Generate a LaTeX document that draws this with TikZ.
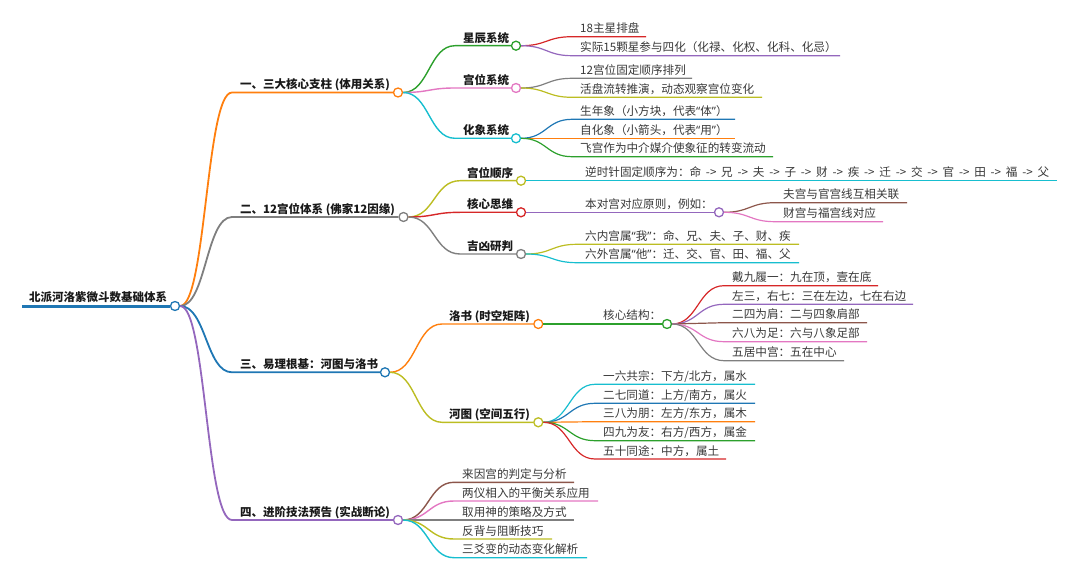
\documentclass[tikz,border=0pt]{standalone}
\usepackage{fontspec}
\setmainfont{Noto Sans CJK SC}
\newfontfamily\qfont{Noto Sans}
\newcommand{\qL}{{\qfont “}}
\newcommand{\qR}{{\qfont ”}}
\usetikzlibrary{calc}
\definecolor{cBlue}{HTML}{1F77B4}
\definecolor{cOrange}{HTML}{FF7F0E}
\definecolor{cGreen}{HTML}{2CA02C}
\definecolor{cRed}{HTML}{D62728}
\definecolor{cPurple}{HTML}{9467BD}
\definecolor{cBrown}{HTML}{8C564B}
\definecolor{cPink}{HTML}{E377C2}
\definecolor{cGray}{HTML}{7F7F7F}
\definecolor{cOlive}{HTML}{BCBD22}
\definecolor{cCyan}{HTML}{17BECF}
\begin{document}
\begin{tikzpicture}[x=1bp,y=-1bp,
  hd/.style={anchor=base west, inner sep=0pt, font=\fontsize{11.5bp}{14bp}\selectfont\bfseries, text=black!90},
  lf/.style={anchor=base west, inner sep=0pt, font=\fontsize{11.6bp}{14bp}\selectfont, text=black!78},
  dot/.style={circle, draw=#1, fill=white, line width=1.3bp, minimum size=9bp, inner sep=0pt},
  link/.style={to path={let \p1=(\tikztostart), \p2=(\tikztotarget) in .. controls ({(\x1+\x2)/2},\y1) and ({(\x1+\x2)/2},\y2) .. (\tikztotarget) \tikztonodes}},
  w0/.style={line width=3bp}, w1/.style={line width=1.8bp}, w2/.style={line width=1.4bp}, w3/.style={line width=1.2bp}]
\useasboundingbox (0,0) rectangle (1080,580);

% ---------- root ----------
\node[dot=cBlue] (root-c) at (175,306) {};
\coordinate (root-s) at (22,306);
\node[hd] (root) at (29,302) {北派河洛紫微斗数基础体系};
\draw[cBlue,w0] (root-s) -- (root-c);

% ---------- level 1 ----------
\coordinate (L1-s) at (232,92.5);
\node[hd] (L1) at (240,89) {一、三大核心支柱 (体用关系)};
\node[dot=cOrange] (L1-c) at (398,92.5) {};
\draw[cOrange,w1] (root-c.east) to[link] (L1-s) -- (L1-c);

\coordinate (L2-s) at (232,217);
\node[hd] (L2) at (240,213.5) {二、12宫位体系 (佛家12因缘)};
\node[dot=cGray] (L2-c) at (403.5,217) {};
\draw[cGray,w1] (root-c.east) to[link] (L2-s) -- (L2-c);

\coordinate (L3-s) at (232,372.3);
\node[hd] (L3) at (240,368.8) {三、易理根基：河图与洛书};
\node[dot=cBlue] (L3-c) at (385,372.3) {};
\draw[cBlue,w1] (root-c.east) to[link] (L3-s) -- (L3-c);

\coordinate (L4-s) at (232,520);
\node[hd] (L4) at (240,516.5) {四、进阶技法预告 (实战断论)};
\node[dot=cPurple] (L4-c) at (398,520) {};
\draw[cPurple,w1] (root-c.east) to[link] (L4-s) -- (L4-c);

% ---------- branch 1 ----------
\coordinate (a1-s) at (455,45.7);
\node[hd] (a1) at (463,42.2) {星辰系统};
\node[dot=cGreen] (a1-c) at (516,45.7) {};
\draw[cGreen,w2] (L1-c.east) to[link] (a1-s) -- (a1-c);

\coordinate (a2-s) at (455,88);
\node[hd] (a2) at (463,84.5) {宫位系统};
\node[dot=cPink] (a2-c) at (516,88) {};
\draw[cPink,w2] (L1-c.east) to[link] (a2-s) -- (a2-c);

\coordinate (a3-s) at (455,138.3);
\node[hd] (a3) at (463,134.8) {化象系统};
\node[dot=cCyan] (a3-c) at (516,138.3) {};
\draw[cCyan,w2] (L1-c.east) to[link] (a3-s) -- (a3-c);

\coordinate (a11-s) at (572,36.7);
\node[lf] (a11) at (580,32.7) {18主星排盘};
\coordinate (a11-e) at (646,36.7);
\draw[cRed,w3] (a1-c.east) to[link] (a11-s) -- (a11-e);

\coordinate (a12-s) at (572,55.7);
\node[lf] (a12) at (580,51.7) {实际15颗星参与四化（化禄、化权、化科、化忌）};
\coordinate (a12-e) at (840,55.7);
\draw[cPurple,w3] (a1-c.east) to[link] (a12-s) -- (a12-e);

\coordinate (a21-s) at (572,78.3);
\node[lf] (a21) at (580,74.3) {12宫位固定顺序排列};
\coordinate (a21-e) at (692,78.3);
\draw[cGray,w3] (a2-c.east) to[link] (a21-s) -- (a21-e);

\coordinate (a22-s) at (572,97.3);
\node[lf] (a22) at (580,93.3) {活盘流转推演，动态观察宫位变化};
\coordinate (a22-e) at (762,97.3);
\draw[cOlive,w3] (a2-c.east) to[link] (a22-s) -- (a22-e);

\coordinate (a31-s) at (572,119.3);
\node[lf] (a31) at (580,115.3) {生年象（小方块，代表\qL 体\qR）};
\coordinate (a31-e) at (735,119.3);
\draw[cBlue,w3] (a3-c.east) to[link] (a31-s) -- (a31-e);

\coordinate (a32-s) at (572,138.3);
\node[lf] (a32) at (580,134.3) {自化象（小箭头，代表\qL 用\qR）};
\coordinate (a32-e) at (735,138.3);
\draw[cOrange,w3] (a3-c.east) to[link] (a32-s) -- (a32-e);

\coordinate (a33-s) at (572,156.7);
\node[lf] (a33) at (580,152.7) {飞宫作为中介媒介使象征的转变流动};
\coordinate (a33-e) at (773,156.7);
\draw[cGreen,w3] (a3-c.east) to[link] (a33-s) -- (a33-e);

% ---------- branch 2 ----------
\coordinate (b1-s) at (460,180.7);
\node[hd] (b1) at (467,177.2) {宫位顺序};
\node[dot=cOlive] (b1-c) at (521,180.7) {};
\draw[cOlive,w2] (L2-c.east) to[link] (b1-s) -- (b1-c);

\coordinate (b2-s) at (460,212.3);
\node[hd] (b2) at (467,208.8) {核心思维};
\node[dot=cRed] (b2-c) at (521,212.3) {};
\draw[cRed,w2] (L2-c.east) to[link] (b2-s) -- (b2-c);

\coordinate (b3-s) at (460,254);
\node[hd] (b3) at (467,250.5) {吉凶研判};
\node[dot=cGray] (b3-c) at (521,254) {};
\draw[cGray,w2] (L2-c.east) to[link] (b3-s) -- (b3-c);

\coordinate (b11-s) at (577,180.7);
\node[lf] (b11) at (585,176.7) {\makebox[464bp][s]{逆时针固定顺序为：命 -> 兄 -> 夫 -> 子 -> 财 -> 疾 -> 迁 -> 交 -> 官 -> 田 -> 福 -> 父}};
\coordinate (b11-e) at (1057,180.7);
\draw[cCyan,w3] (b1-c.east) to[link] (b11-s) -- (b11-e);

\coordinate (b21-s) at (577,212.3);
\node[lf] (b21) at (585,208.3) {本对宫对应原则，例如：};
\node[dot=cPurple] (b21-c) at (719,212.3) {};
\draw[cPurple,w3] (b2-c.east) to[link] (b21-s) -- (b21-c);

\coordinate (b211-s) at (775,202.7);
\node[lf] (b211) at (783,198.7) {夫宫与官宫线互相关联};
\coordinate (b211-e) at (907,202.7);
\draw[cBrown,w3] (b21-c.east) to[link] (b211-s) -- (b211-e);

\coordinate (b212-s) at (775,221.7);
\node[lf] (b212) at (783,217.7) {财宫与福宫线对应};
\coordinate (b212-e) at (883,221.7);
\draw[cPink,w3] (b21-c.east) to[link] (b212-s) -- (b212-e);

\coordinate (b31-s) at (577,244.3);
\node[lf] (b31) at (585,240.3) {六内宫属\qL 我\qR：命、兄、夫、子、财、疾};
\coordinate (b31-e) at (799,244.3);
\draw[cOlive,w3] (b3-c.east) to[link] (b31-s) -- (b31-e);

\coordinate (b32-s) at (577,262.7);
\node[lf] (b32) at (585,258.7) {六外宫属\qL 他\qR：迁、交、官、田、福、父};
\coordinate (b32-e) at (799,262.7);
\draw[cCyan,w3] (b3-c.east) to[link] (b32-s) -- (b32-e);

% ---------- branch 3 ----------
\coordinate (c1-s) at (442,324);
\node[hd] (c1) at (449,320.5) {洛书 (时空矩阵)};
\node[dot=cOrange] (c1-c) at (538.3,324) {};
\draw[cOrange,w2] (L3-c.east) to[link] (c1-s) -- (c1-c);

\coordinate (c2-s) at (442,422.3);
\node[hd] (c2) at (449,418.8) {河图 (空间五行)};
\node[dot=cOlive] (c2-c) at (538.3,422.3) {};
\draw[cOlive,w2] (L3-c.east) to[link] (c2-s) -- (c2-c);

\coordinate (c11-s) at (595,324);
\node[lf] (c11) at (603,320) {核心结构：};
\node[dot=cGreen] (c11-c) at (667,324) {};
\draw[cGreen,w3] (c1-c.east) to[link] (c11-s) -- (c11-c);

\coordinate (c111-s) at (724,285.7);
\node[lf] (c111) at (732,281.7) {戴九履一：九在顶，壹在底};
\coordinate (c111-e) at (878,285.7);
\draw[cRed,w3] (c11-c.east) to[link] (c111-s) -- (c111-e);

\coordinate (c112-s) at (724,304.3);
\node[lf] (c112) at (732,300.3) {左三，右七：三在左边，七在右边};
\coordinate (c112-e) at (913,304.3);
\draw[cPurple,w3] (c11-c.east) to[link] (c112-s) -- (c112-e);

\coordinate (c113-s) at (724,322.7);
\node[lf] (c113) at (732,318.7) {二四为肩：二与四象肩部};
\coordinate (c113-e) at (867,322.7);
\draw[cBrown,w3] (c11-c.east) to[link] (c113-s) -- (c113-e);

\coordinate (c114-s) at (724,341.7);
\node[lf] (c114) at (732,337.7) {六八为足：六与八象足部};
\coordinate (c114-e) at (867,341.7);
\draw[cPink,w3] (c11-c.east) to[link] (c114-s) -- (c114-e);

\coordinate (c115-s) at (724,360.7);
\node[lf] (c115) at (732,356.7) {五居中宫：五在中心};
\coordinate (c115-e) at (844,360.7);
\draw[cGray,w3] (c11-c.east) to[link] (c115-s) -- (c115-e);

\coordinate (c21-s) at (595,384.3);
\node[lf] (c21) at (603,380.3) {一六共宗：下方/北方，属水};
\coordinate (c21-e) at (755,384.3);
\draw[cCyan,w3] (c2-c.east) to[link] (c21-s) -- (c21-e);

\coordinate (c22-s) at (595,403.3);
\node[lf] (c22) at (603,399.3) {二七同道：上方/南方，属火};
\coordinate (c22-e) at (755,403.3);
\draw[cBlue,w3] (c2-c.east) to[link] (c22-s) -- (c22-e);

\coordinate (c23-s) at (595,421.7);
\node[lf] (c23) at (603,417.7) {三八为朋：左方/东方，属木};
\coordinate (c23-e) at (755,421.7);
\draw[cOrange,w3] (c2-c.east) to[link] (c23-s) -- (c23-e);

\coordinate (c24-s) at (595,440.7);
\node[lf] (c24) at (603,436.7) {四九为友：右方/西方，属金};
\coordinate (c24-e) at (755,440.7);
\draw[cGreen,w3] (c2-c.east) to[link] (c24-s) -- (c24-e);

\coordinate (c25-s) at (595,459);
\node[lf] (c25) at (603,455) {五十同途：中方，属土};
\coordinate (c25-e) at (726,459);
\draw[cRed,w3] (c2-c.east) to[link] (c25-s) -- (c25-e);

% ---------- branch 4 ----------
\coordinate (d1-s) at (454,482.3);
\node[lf] (d1) at (462,478.3) {来因宫的判定与分析};
\coordinate (d1-e) at (574,482.3);
\draw[cBrown,w2] (L4-c.east) to[link] (d1-s) -- (d1-e);

\coordinate (d2-s) at (454,501);
\node[lf] (d2) at (462,497) {两仪相入的平衡关系应用};
\coordinate (d2-e) at (598,501);
\draw[cPink,w2] (L4-c.east) to[link] (d2-s) -- (d2-e);

\coordinate (d3-s) at (454,520);
\node[lf] (d3) at (462,516) {取用神的策略及方式};
\coordinate (d3-e) at (574,520);
\draw[cGray,w2] (L4-c.east) to[link] (d3-s) -- (d3-e);

\coordinate (d4-s) at (454,539);
\node[lf] (d4) at (462,535) {反背与阻断技巧};
\coordinate (d4-e) at (552,539);
\draw[cOlive,w2] (L4-c.east) to[link] (d4-s) -- (d4-e);

\coordinate (d5-s) at (454,557.7);
\node[lf] (d5) at (462,553.7) {三爻变的动态变化解析};
\coordinate (d5-e) at (587,557.7);
\draw[cCyan,w2] (L4-c.east) to[link] (d5-s) -- (d5-e);
\end{tikzpicture}
\end{document}
